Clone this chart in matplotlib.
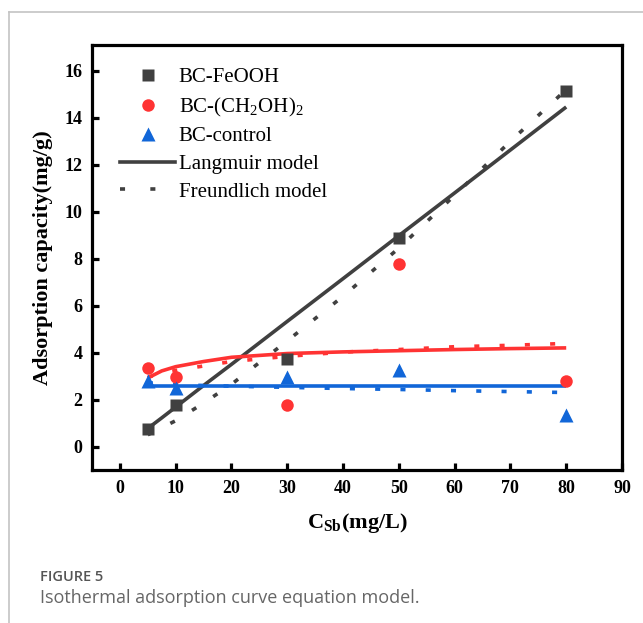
import matplotlib
matplotlib.use("Agg")
import matplotlib.pyplot as plt
from matplotlib.lines import Line2D

plt.rcParams['font.family'] = ['Liberation Serif', 'DejaVu Serif']
plt.rcParams['mathtext.fontset'] = 'custom'
plt.rcParams['mathtext.rm'] = 'Liberation Serif'
plt.rcParams['mathtext.bf'] = 'Liberation Serif:bold'

# ---- data ----
x_data = [5, 10, 30, 50, 80]
feooh = [0.75, 1.75, 3.72, 8.9, 15.15]
ch2oh = [3.35, 2.95, 1.75, 7.76, 2.8]
control = [2.77, 2.5, 2.98, 3.28, 1.35]

x_model = [5, 7.5, 10, 15, 20, 30, 40, 50, 60, 70, 80]
feooh_lang = [0.77, 1.22, 1.68, 2.6, 3.5, 5.33, 7.15, 8.98, 10.8, 12.63, 14.46]
feooh_freu = [0.5, 0.8, 1.1, 1.85, 2.65, 4.5, 6.4, 8.45, 10.7, 13.0, 15.2]
ch2oh_lang = [2.92, 3.22, 3.4, 3.62, 3.8, 3.96, 4.03, 4.08, 4.13, 4.17, 4.2]
ch2oh_freu = [2.95, 3.12, 3.24, 3.43, 3.62, 3.84, 4.02, 4.13, 4.25, 4.31, 4.39]
control_lang = [2.58] * 11
control_freu = [2.72, 2.67, 2.63, 2.6, 2.57, 2.52, 2.47, 2.43, 2.38, 2.34, 2.3]

x_ticks = [0, 10, 20, 30, 40, 50, 60, 70, 80, 90]
y_ticks = [0, 2, 4, 6, 8, 10, 12, 14, 16]

c_gray = '#404040'
c_red = '#ff3333'
c_blue = '#1166d8'

fig = plt.figure(figsize=(6.43, 6.23), dpi=100)
ax = fig.add_axes([92/643, 1-470/623, 530/643, 425/623])

lw = 2.6
fdash = (1.4, 5.6)
for ym, yf, c in [(feooh_lang, feooh_freu, c_gray),
                  (ch2oh_lang, ch2oh_freu, c_red),
                  (control_lang, control_freu, c_blue)]:
    ax.plot(x_model, ym, color=c, lw=lw, solid_capstyle='butt', zorder=2)
    ax.plot(x_model, yf, color=c, lw=lw, dashes=fdash, dash_capstyle='butt', zorder=2)

ax.plot(x_data, feooh, 's', color=c_gray, ms=8, mec='none', zorder=3)
ax.plot(x_data, ch2oh, 'o', color=c_red, ms=9, mec='none', zorder=3)
ax.plot(x_data, control, '^', color=c_blue, ms=9.5, mec='none', zorder=3)

ax.set_xlim(-5, 90)
ax.set_ylim(-1, 17.1)
ax.set_xticks(x_ticks)
ax.set_yticks(y_ticks)
for s in ax.spines.values():
    s.set_linewidth(2.3)
ax.tick_params(direction='in', length=5, width=2.3, labelsize=13, pad=7)
for lab in ax.get_xticklabels() + ax.get_yticklabels():
    lab.set_fontweight('bold')

ax.set_ylabel('Adsorption capacity(mg/g)', fontsize=16, fontweight='bold', labelpad=8)
ax.set_xlabel(r'C$_{\mathbf{Sb}}$(mg/L)', fontsize=16, fontweight='bold', labelpad=10)

handles = [
    Line2D([], [], ls='none', marker='s', color=c_gray, ms=8, mec='none'),
    Line2D([], [], ls='none', marker='o', color=c_red, ms=9, mec='none'),
    Line2D([], [], ls='none', marker='^', color=c_blue, ms=9.5, mec='none'),
    Line2D([], [], color=c_gray, lw=lw),
    Line2D([], [], color=c_gray, lw=lw, dashes=(1.4, 7)),
]
labels = ['BC-FeOOH', r'BC-(CH$_2$OH)$_2$', 'BC-control', 'Langmuir model', 'Freundlich model']
ax.legend(handles, labels, loc='upper left', bbox_to_anchor=(0.038, 0.966), frameon=False,
          fontsize=15, handlelength=2.6, handletextpad=0.2, labelspacing=0.39,
          borderaxespad=0)

# page border and caption
fig.add_artist(Line2D([9/643, 1], [1-12/623, 1-12/623], color='#c4c4c4', lw=1.2))
fig.add_artist(Line2D([9/643, 9/643], [0, 1-12/623], color='#c4c4c4', lw=1.2))
fig.text(40/643, 1-577/623, 'FIGURE 5', fontsize=10.5, color='#555555', fontweight='semibold',
         family=['Open Sans', 'DejaVu Sans'], va='center')
fig.text(40/643, 1-598/623, 'Isothermal adsorption curve equation model.', fontsize=13,
         color='#666666', family=['Open Sans', 'DejaVu Sans'], va='center')

fig.savefig('out.png', dpi=100)
